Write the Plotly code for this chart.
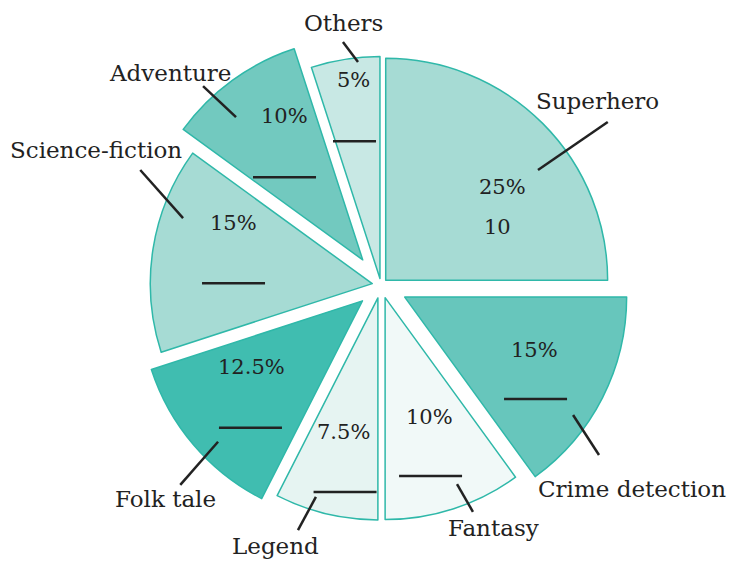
import math
import plotly.graph_objects as go

# ---- data ----
genres = ["Superhero", "Crime detection", "Fantasy", "Legend",
          "Folk tale", "Science-fiction", "Adventure", "Others"]
shares = [25, 15, 10, 7.5, 12.5, 15, 10, 5]
percent_labels = ["25%", "15%", "10%", "7.5%", "12.5%", "15%", "10%", "5%"]
filled_answers = ["10", "", "", "", "", "", "", ""]   # only Superhero is filled in

# ---- style ----
colors = ["#a6dbd4", "#67c6bc", "#f1f9f8", "#e6f4f2",
          "#40bdb0", "#a6dbd4", "#72c9bf", "#c8e8e4"]
pulls = [0.03, 0.12, 0.06, 0.06, 0.11, 0.04, 0.14, 0.03]
edge = "#2fb8a9"
ink = "#222222"
FONT = "DejaVu Serif"

W, H = 738, 561
OFF = 8  # default page body margin
ML, MT = 128 - OFF, 32 - OFF
PW = PH = 506
MR, MB = W - ML - PW, H - MT - PH

# label placement, polar relative to each pulled slice apex: (radius fraction, angle deg clockwise from 12)
pct_pos = [(0.675, 51.5), (0.633, 112.1), (0.574, 159.4), (0.623, 194.2),
           (0.583, 239.3), (0.684, 293.5), (0.738, 331.3), (0.901, 352.5)]
ans_pos = [(0.56, 64.6), None, None, None, None, None, None, None]
blank_pos = [None, (0.747, 127.9), (0.829, 165.7), (0.887, 189.6),
             (0.763, 221.4), (0.625, 270.2), (0.513, 316.6), (0.629, 349.5)]
blank_len = [0, 63, 63, 63, 63, 63, 63, 43]
lead_in = [(0.847, 54.1), (0.926, 125.0), (0.900, 158.9), (0.939, 197.3),
           (0.909, 225.7), (0.902, 289.1), (0.860, 318.4), (0.980, 354.2)]
lead_out = [(1.229, 54.5), (1.128, 129.1), (1.043, 157.7), (1.106, 199.0),
            (1.167, 224.7), (1.164, 296.1), (1.063, 317.4), (1.078, 351.1)]
name_pos = [(1.252, 49.8), (1.340, 130.2), (1.148, 154.7), (1.210, 202.5),
            (1.260, 224.9), (1.382, 295.8), (1.209, 314.1), (1.162, 351.9)]

# ---- geometry consistent with plotly's pie layout ----
R = min(PW, PH) / 2 / (1 + max(pulls))
CX, CY = ML + PW / 2, MT + PH / 2
total = sum(shares)
apex = []
acc = 0
for v, p in zip(shares, pulls):
    mid = (acc + v / 2) / total * 360
    acc += v
    a = math.radians(mid)
    apex.append((CX + p * R * math.sin(a), CY - p * R * math.cos(a)))


def pt(i, polar):
    f, ang = polar
    a = math.radians(ang)
    px = apex[i][0] + f * R * math.sin(a)
    py = apex[i][1] - f * R * math.cos(a)
    return px, py


def paper(px, py):
    return (px - ML) / PW, (MT + PH - py) / PH


fig = go.Figure(go.Pie(
    labels=genres, values=shares, sort=False, direction="clockwise", rotation=0,
    pull=pulls, textinfo="none", hoverinfo="label+percent",
    marker=dict(colors=colors, line=dict(color=edge, width=1.5)),
    showlegend=False,
))

annotations = []
shapes = []


def label(x, y, text, size):
    annotations.append(dict(x=x, y=y, xref="paper", yref="paper", text=text,
                            xanchor="center", yanchor="middle", showarrow=False,
                            borderpad=0,
                            font=dict(family=FONT, size=size, color=ink)))


for i in range(len(genres)):
    label(*paper(*pt(i, pct_pos[i])), percent_labels[i], 21)
    if ans_pos[i] is not None and filled_answers[i]:
        label(*paper(*pt(i, ans_pos[i])), filled_answers[i], 21)
    if blank_pos[i] is not None:
        bx, by = pt(i, blank_pos[i])
        x0, y0 = paper(bx - blank_len[i] / 2, by)
        x1, _ = paper(bx + blank_len[i] / 2, by)
        shapes.append(dict(type="line", xref="paper", yref="paper", x0=x0, x1=x1, y0=y0, y1=y0,
                           line=dict(color=ink, width=2.5)))
    ax0, ay0 = paper(*pt(i, lead_in[i]))
    ax1, ay1 = paper(*pt(i, lead_out[i]))
    shapes.append(dict(type="line", xref="paper", yref="paper", x0=ax0, y0=ay0, x1=ax1, y1=ay1,
                       line=dict(color=ink, width=2.5)))
    label(*paper(*pt(i, name_pos[i])), genres[i], 23)

fig.update_layout(
    width=W, height=H,
    margin=dict(l=ML, r=MR, t=MT, b=MB),
    paper_bgcolor="white", plot_bgcolor="white",
    annotations=annotations, shapes=shapes,
)

fig.write_html("out.html")
